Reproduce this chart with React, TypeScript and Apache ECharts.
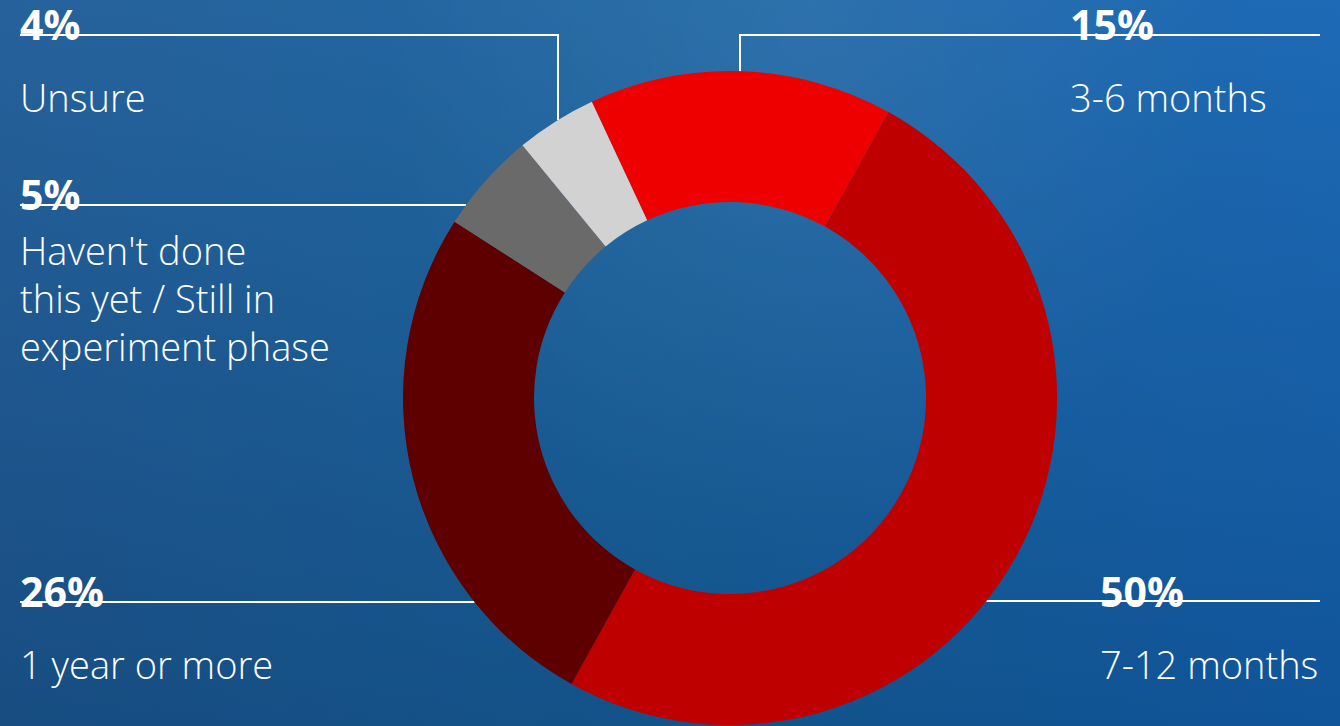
import React, { useEffect, useRef } from "react";
import * as echarts from "echarts";

const categories = ["3-6 months", "7-12 months", "1 year or more", "Haven't done\nthis yet / Still in\nexperiment phase", "Unsure"];
const values = [15, 50, 26, 5, 4];
const colors = ["#EE0000", "#BE0000", "#5F0000", "#6A6A6A", "#D2D2D2"];

const W = 1340;
const H = 726;
const CX = 730;
const CY = 398;
const R_IN = 196;
const R_OUT = 327;
const FONT = "'Open Sans', Lato, sans-serif";

// label layout: text anchor, leader line route (y of horizontal rule, optional vertical x)
const labelPlacement = [
  { x: 1070, pctY: 24, multi: false, lineY: 35, vx: 740, endX: 1320 },
  { x: 1100, pctY: 591, multi: false, lineY: 601, vx: null, endX: 1320 },
  { x: 20, pctY: 591, multi: false, lineY: 602, vx: null, endX: 20 },
  { x: 20, pctY: 194, multi: true, lineY: 205, vx: null, endX: 20 },
  { x: 20, pctY: 24, multi: false, lineY: 35, vx: 558, endX: 20 },
];
const PCT_LH_SINGLE = 40;
const NAME_LH_SINGLE = 106;
const PCT_LH_MULTI = 64;
const NAME_LH = 48;

export default function App() {
  const ref = useRef<HTMLDivElement>(null);
  useEffect(() => {
    if (!ref.current) return;
    const chart = echarts.init(ref.current, null, { renderer: "svg" });
    const pctBase = { fontSize: 41, fontWeight: "bold", color: "#fff", fontFamily: FONT };
    const nameBase = { fontSize: 38, fontWeight: 350, color: "#fff", fontFamily: FONT };
    const option = {
      animation: false,
      backgroundColor: "transparent",
      series: [
        {
          type: "pie",
          center: [CX, CY],
          radius: [R_IN, R_OUT],
          startAngle: 115,
          clockwise: true,
          avoidLabelOverlap: false,
          emphasis: { disabled: true },
          itemStyle: { borderWidth: 0 },
          label: {
            show: true,
            position: "outside",
            color: "#ffffff",
            fontFamily: FONT,
            formatter: (p: any) => {
              const multi = labelPlacement[p.dataIndex].multi;
              if (multi) {
                return `{pb|${p.value}%}\n{n|${p.name.split("\n").join("}\n{n|")}}`;
              }
              return `{pa|${p.value}%}\n{na|${p.name}}`;
            },
            rich: {
              pa: { ...pctBase, lineHeight: PCT_LH_SINGLE },
              pb: { ...pctBase, lineHeight: PCT_LH_MULTI },
              na: { ...nameBase, lineHeight: NAME_LH_SINGLE },
              n: { ...nameBase, lineHeight: NAME_LH },
            },
          },
          labelLine: { show: true, smooth: false, lineStyle: { color: "#ffffff", width: 2 } },
          labelLayout: (params: any) => {
            const lp = labelPlacement[params.dataIndex];
            const lh = lp.multi ? PCT_LH_MULTI : PCT_LH_SINGLE;
            let pts: number[][];
            if (lp.vx !== null) {
              const dx = lp.vx - CX;
              const sy = CY - Math.sqrt(R_OUT * R_OUT - dx * dx);
              pts = [[lp.vx, sy], [lp.vx, lp.lineY], [lp.endX, lp.lineY]];
            } else {
              const dy = lp.lineY - CY;
              const side = lp.endX > CX ? 1 : -1;
              const sx = CX + side * Math.sqrt(R_OUT * R_OUT - dy * dy);
              pts = [[sx, lp.lineY], [(sx + lp.endX) / 2, lp.lineY], [lp.endX, lp.lineY]];
            }
            return {
              x: lp.x,
              y: lp.pctY - lh / 2,
              align: "left",
              verticalAlign: "top",
              labelLinePoints: pts,
            };
          },
          data: categories.map((c, i) => ({ name: c, value: values[i], itemStyle: { color: colors[i] } })),
        },
      ],
    };
    chart.setOption(option as any);
    return () => chart.dispose();
  }, []);
  return (
    <div
      style={{
        position: "fixed",
        left: 0,
        top: 0,
        width: W,
        height: H,
        background:
          "radial-gradient(ellipse 420px 520px at 800px 40px, rgba(255,255,255,0.06), rgba(255,255,255,0) 100%), linear-gradient(to bottom, rgba(255,255,255,0.05), rgba(0,0,0,0.14)), linear-gradient(to right, #1b5996 0%, #15609f 50%, #1262b2 100%)",
      }}
    >
      <div ref={ref} style={{ width: W, height: H }} />
    </div>
  );
}
